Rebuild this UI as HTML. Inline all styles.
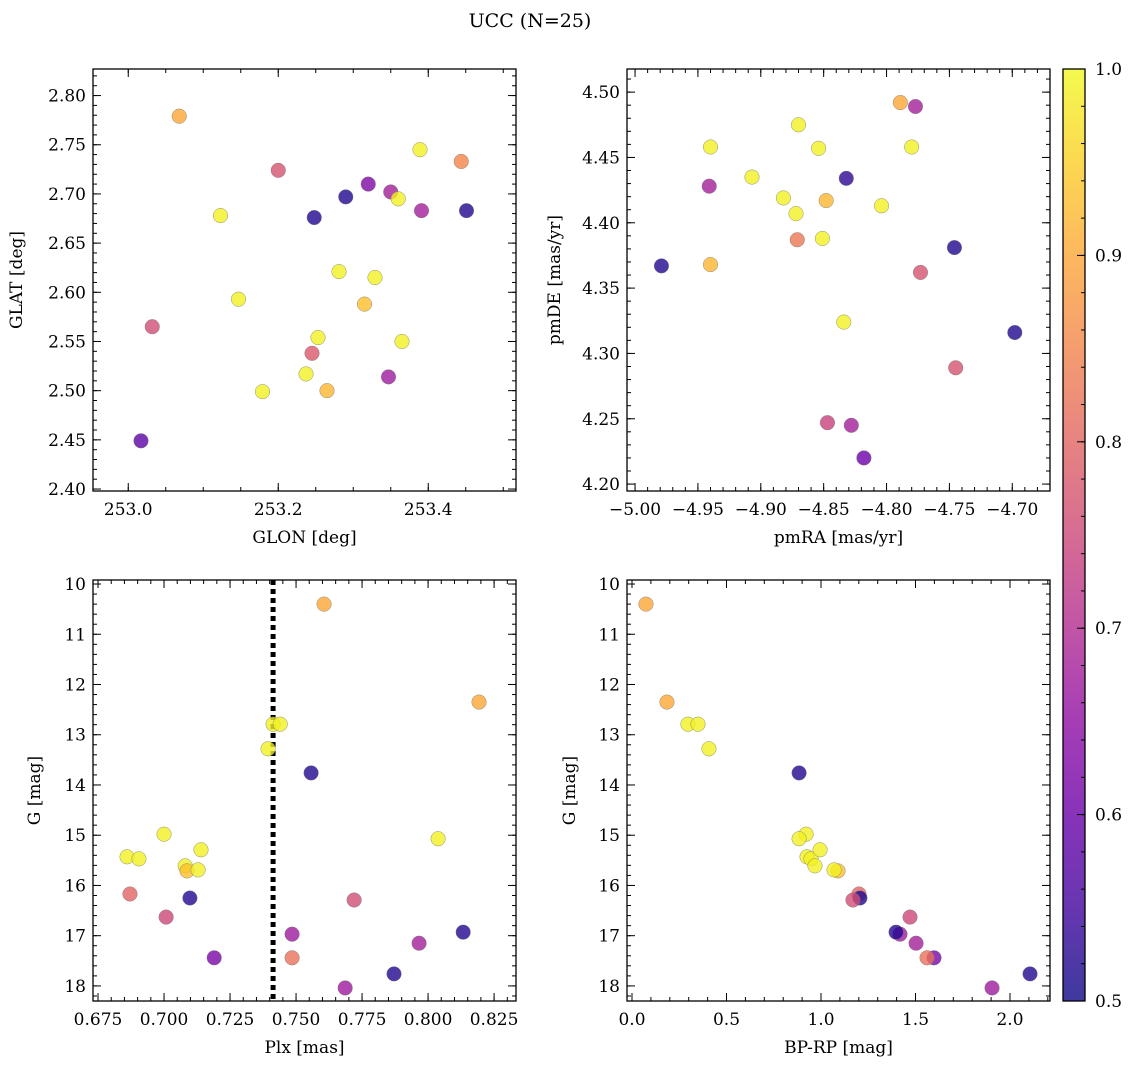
<!DOCTYPE html>
<html><head><meta charset="utf-8">
<style>
html,body{margin:0;padding:0;background:#fff;}
svg{display:block;font-family:"DejaVu Serif","Liberation Serif",serif;}
</style></head>
<body>
<svg id="fig" width="1136" height="1068" viewBox="0 0 1136 1068">
<text x="530" y="27" font-size="19" text-anchor="middle">UCC (N=25)</text>
</svg>
<script>
// ---- data ----
const glon = [253.068,253.2,253.444,253.389,253.123,253.248,253.29,253.32,253.35,253.36,253.391,253.451,253.281,253.329,253.147,253.315,253.032,253.253,253.365,253.245,253.237,253.265,253.179,253.347,253.017];
const glat = [2.779,2.724,2.733,2.745,2.678,2.676,2.697,2.710,2.702,2.695,2.683,2.683,2.621,2.615,2.593,2.588,2.565,2.554,2.550,2.538,2.517,2.500,2.499,2.514,2.449];
const probA = [0.9,0.77,0.85,0.99,0.99,0.52,0.52,0.63,0.68,0.99,0.68,0.52,0.99,0.99,0.99,0.93,0.76,0.99,0.99,0.78,0.99,0.92,0.99,0.67,0.58];

const pmra = [-4.789,-4.777,-4.870,-4.940,-4.854,-4.780,-4.941,-4.907,-4.832,-4.882,-4.848,-4.804,-4.872,-4.871,-4.851,-4.940,-4.979,-4.746,-4.773,-4.834,-4.698,-4.745,-4.847,-4.828,-4.818];
const pmde = [4.492,4.489,4.475,4.458,4.457,4.458,4.428,4.435,4.434,4.419,4.417,4.413,4.407,4.387,4.388,4.368,4.367,4.381,4.362,4.324,4.316,4.289,4.247,4.245,4.220];
const probB = [0.9,0.68,0.99,0.99,0.99,0.99,0.68,0.99,0.53,0.99,0.92,0.99,0.99,0.83,0.99,0.92,0.52,0.52,0.77,0.99,0.52,0.77,0.74,0.68,0.6];

const plx = [0.7606,0.8193,0.7413,0.744,0.7394,0.7557,0.700,0.8038,0.686,0.6905,0.714,0.708,0.7087,0.7129,0.6871,0.7098,0.772,0.7008,0.7485,0.8133,0.7966,0.719,0.7485,0.7871,0.7686];
const bprp = [0.074,0.185,0.296,0.349,0.407,0.884,0.921,0.884,0.926,0.947,0.995,0.968,1.09,1.069,1.201,1.206,1.169,1.471,1.418,1.397,1.503,1.598,1.561,2.106,1.905];
const gmag = [10.40,12.35,12.79,12.79,13.28,13.76,14.98,15.07,15.43,15.47,15.29,15.61,15.71,15.69,16.17,16.25,16.29,16.63,16.97,16.93,17.15,17.44,17.44,17.76,18.04];
const probC = [0.9,0.9,0.99,0.99,0.99,0.52,0.99,0.99,0.99,0.99,0.99,0.99,0.93,0.99,0.8,0.52,0.76,0.75,0.67,0.52,0.68,0.62,0.82,0.52,0.67];
const plxMean = [0.7413];

const glonTicks = [253.0,253.2,253.4];
const glatTicks = [2.40,2.45,2.50,2.55,2.60,2.65,2.70,2.75,2.80];
const pmraTicks = [-5.00,-4.95,-4.90,-4.85,-4.80,-4.75,-4.70];
const pmdeTicks = [4.20,4.25,4.30,4.35,4.40,4.45,4.50];
const plxTicks = [0.675,0.700,0.725,0.750,0.775,0.800,0.825];
const gTicks = [10,11,12,13,14,15,16,17,18];
const bprpTicks = [0.0,0.5,1.0,1.5,2.0];
const cbTicks = [0.5,0.6,0.7,0.8,0.9,1.0];

const NS='http://www.w3.org/2000/svg';
const svg=document.getElementById('fig');
function mk(tag,attrs,parent){const e=document.createElementNS(NS,tag);for(const k in attrs)e.setAttribute(k,attrs[k]);(parent||svg).appendChild(e);return e;}
const plasma=['#0d0887','#41049d','#6a00a8','#8f0da4','#b12a90','#cc4778','#e16462','#f2844b','#fca636','#fcce25','#f0f921'];
function hex2(h){return [1,3,5].map(i=>parseInt(h.substr(i,2),16));}
function cmap(c){let t=Math.max(0,Math.min(1,(c-0.5)/0.5))*10;const i=Math.min(9,Math.floor(t));const f=t-i;const a=hex2(plasma[i]),b=hex2(plasma[i+1]);return 'rgb('+a.map((v,k)=>Math.round(v+(b[k]-v)*f)).join(',')+')';}
function minus(s){return s.replace('-','\u2212');}

function panel(o){
  const g=mk('g',{});  
  const {x0,x1,y0,y1}=o;
  const sx=v=>x0+(v-o.xmin)/(o.xmax-o.xmin)*(x1-x0);
  const sy=o.yinv? v=>y0+(v-o.ymin)/(o.ymax-o.ymin)*(y1-y0) : v=>y1-(v-o.ymin)/(o.ymax-o.ymin)*(y1-y0);
  if(o.vline){const l=mk('line',{x1:sx(o.vline[0]),x2:sx(o.vline[0]),y1:y0,y2:y1,stroke:'#000','stroke-width':5,'stroke-dasharray':'5,4'},g);}
  for(let i=0;i<o.xs.length;i++){
    const c=mk('circle',{cx:sx(o.xs[i]),cy:sy(o.ys[i]),r:7.3,fill:cmap(o.cs[i]),'fill-opacity':0.8,stroke:'#777','stroke-width':0.5,'stroke-opacity':0.8},g);
    
    
  }
  mk('rect',{x:x0,y:y0,width:x1-x0,height:y1-y0,fill:'none',stroke:'#000','stroke-width':1.3},g);
  const minorX=o.xminor, minorY=o.yminor;
  for(let v=Math.ceil(o.xmin/minorX)*minorX; v<=o.xmax+1e-9; v+=minorX){const X=sx(v);mk('line',{x1:X,x2:X,y1:y1,y2:y1-4,stroke:'#000'},g);mk('line',{x1:X,x2:X,y1:y0,y2:y0+4,stroke:'#000'},g);}
  for(let v=Math.ceil(o.ymin/minorY)*minorY; v<=o.ymax+1e-9; v+=minorY){const Y=sy(v);mk('line',{x1:x0,x2:x0+4,y1:Y,y2:Y,stroke:'#000'},g);mk('line',{x1:x1,x2:x1-4,y1:Y,y2:Y,stroke:'#000'},g);}
  o.xt.forEach(v=>{const X=sx(v);mk('line',{x1:X,x2:X,y1:y1,y2:y1-8,stroke:'#000'},g);mk('line',{x1:X,x2:X,y1:y0,y2:y0+8,stroke:'#000'},g);
    const t=mk('text',{x:X,y:y1+24,'font-size':17,'text-anchor':'middle'},g);t.textContent=minus(v.toFixed(o.xd));});
  o.yt.forEach(v=>{const Y=sy(v);mk('line',{x1:x0,x2:x0+8,y1:Y,y2:Y,stroke:'#000'},g);mk('line',{x1:x1,x2:x1-8,y1:Y,y2:Y,stroke:'#000'},g);
    const t=mk('text',{x:x0-7,y:Y+6,'font-size':17,'text-anchor':'end'},g);t.textContent=minus(v.toFixed(o.yd));});
  const xl=mk('text',{x:(x0+x1)/2,y:y1+52,'font-size':17,'text-anchor':'middle'},g);xl.textContent=o.xlabel;
  const yx=o.ylx, yc=(y0+y1)/2;
  const yl=mk('text',{x:yx,y:yc,'font-size':17,'text-anchor':'middle',transform:`rotate(-90 ${yx} ${yc})`},g);yl.textContent=o.ylabel;
}

panel({name:'glon-glat-panel',x0:93,x1:516,y0:69,y1:491,xmin:252.953,xmax:253.517,ymin:2.398,ymax:2.827,xs:glon,ys:glat,cs:probA,xt:glonTicks,yt:glatTicks,xd:1,yd:2,xminor:0.05,yminor:0.01,xlabel:'GLON [deg]',ylabel:'GLAT [deg]',ylx:22});
panel({name:'pm-panel',x0:627,x1:1050,y0:69,y1:491,xmin:-5.0064,xmax:-4.670,ymin:4.1947,ymax:4.5177,xs:pmra,ys:pmde,cs:probB,xt:pmraTicks,yt:pmdeTicks,xd:2,yd:2,xminor:0.01,yminor:0.01,xlabel:'pmRA [mas/yr]',ylabel:'pmDE [mas/yr]',ylx:560});
panel({name:'plx-g-panel',x0:93,x1:516,y0:580,y1:1001,xmin:0.6731,xmax:0.8333,ymin:9.92,ymax:18.30,yinv:true,xs:plx,ys:gmag,cs:probC,xt:plxTicks,yt:gTicks,xd:3,yd:0,xminor:0.005,yminor:0.2,xlabel:'Plx [mas]',ylabel:'G [mag]',ylx:40,vline:plxMean});
panel({name:'cmd-panel',x0:627,x1:1050,y0:580,y1:1001,xmin:-0.0265,xmax:2.2116,ymin:9.92,ymax:18.30,yinv:true,xs:bprp,ys:gmag,cs:probC,xt:bprpTicks,yt:gTicks,xd:1,yd:0,xminor:0.1,yminor:0.2,xlabel:'BP-RP [mag]',ylabel:'G [mag]',ylx:575});

(function(){
  const g=mk('g',{});
  const defs=mk('defs',{},g);const lg=mk('linearGradient',{id:'cbg',x1:0,y1:1,x2:0,y2:0},defs);
  plasma.forEach((c,i)=>mk('stop',{offset:i/10,'stop-color':c},lg));
  const x0=1063,x1=1085,y0=69,y1=1001;
  mk('rect',{x:x0,y:y0,width:x1-x0,height:y1-y0,fill:'url(#cbg)','fill-opacity':0.8},g);
  mk('rect',{x:x0,y:y0,width:x1-x0,height:y1-y0,fill:'none',stroke:'#000','stroke-width':1.3},g);
  const sy=v=>y1-(v-0.5)/0.5*(y1-y0);
  for(let v=0.52;v<1;v+=0.02){const Y=sy(v);mk('line',{x1:x1,x2:x1-4,y1:Y,y2:Y,stroke:'#000'},g);}
  cbTicks.forEach(v=>{const Y=sy(v);mk('line',{x1:x1,x2:x1-8,y1:Y,y2:Y,stroke:'#000'},g);
    const t=mk('text',{x:x1+10,y:Y+6,'font-size':17},g);t.textContent=v.toFixed(1);});
})();
</script>
</body></html>
